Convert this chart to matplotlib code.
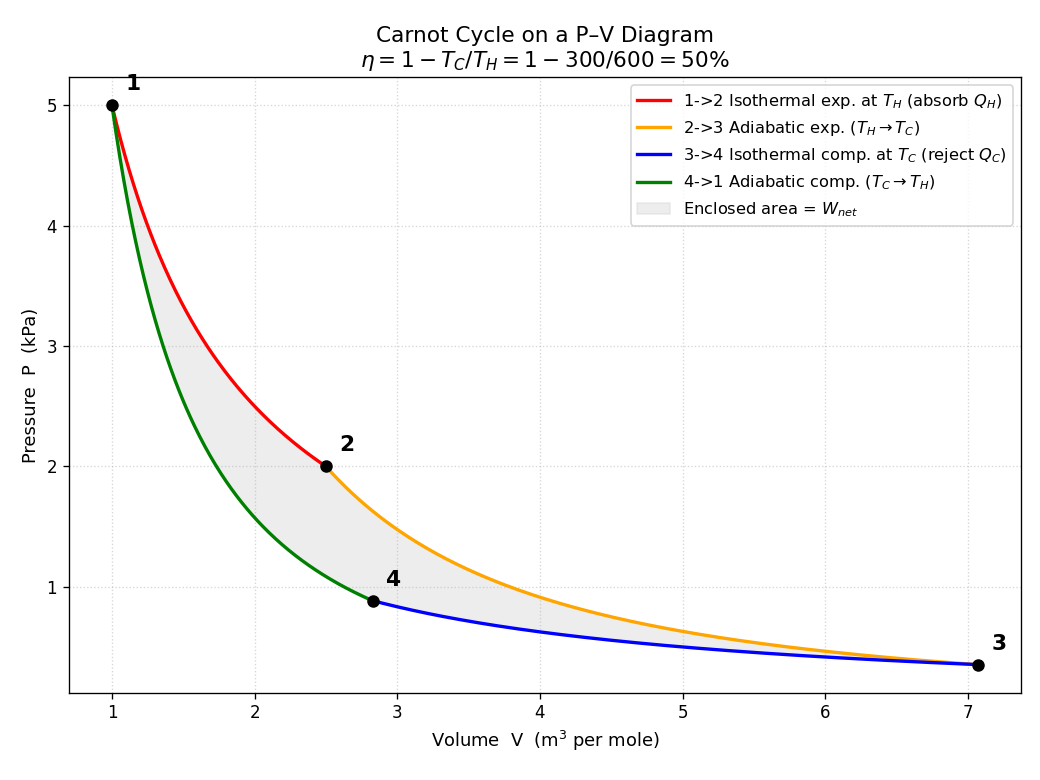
import numpy as np
import matplotlib.pyplot as plt

# state points of the cycle
V_pts = [1.0, 2.5, 7.071, 2.828]
P_pts = [5.0, 2.0, 0.354, 0.884]
labels = ['1', '2', '3', '4']
gamma = 5.0 / 3.0

V1, V2, V3, V4 = V_pts
P1, P2, P3, P4 = P_pts

# isotherms PV = const, adiabats PV^gamma = const
v12 = np.linspace(V1, V2, 200)
p12 = P1 * V1 / v12
v23 = np.linspace(V2, V3, 200)
p23 = P2 * (V2 / v23) ** gamma
v34 = np.linspace(V3, V4, 200)
p34 = P3 * V3 / v34
v41 = np.linspace(V4, V1, 200)
p41 = P4 * (V4 / v41) ** gamma

fig, ax = plt.subplots(figsize=(1040 / 120, 780 / 120), dpi=120)
fig.subplots_adjust(left=0.066, right=0.982, top=0.901, bottom=0.112)

ax.fill(np.concatenate([v12, v23, v34, v41]), np.concatenate([p12, p23, p34, p41]),
        color='lightgray', alpha=0.4, label='Enclosed area = $W_{net}$')
ax.plot(v12, p12, color='red', lw=2, label='1->2 Isothermal exp. at $T_H$ (absorb $Q_H$)')
ax.plot(v23, p23, color='orange', lw=2, label='2->3 Adiabatic exp. ($T_H \\rightarrow T_C$)')
ax.plot(v34, p34, color='blue', lw=2, label='3->4 Isothermal comp. at $T_C$ (reject $Q_C$)')
ax.plot(v41, p41, color='green', lw=2, label='4->1 Adiabatic comp. ($T_C \\rightarrow T_H$)')

ax.plot(V_pts, P_pts, 'o', color='black', ms=6.5, zorder=5)
for v, p, s in zip(V_pts, P_pts, labels):
    ax.annotate(s, (v, p), xytext=(8, 9), textcoords='offset points',
                fontsize=13, fontweight='bold')

handles, labs = ax.get_legend_handles_labels()
order = [1, 2, 3, 4, 0]
ax.legend([handles[i] for i in order], [labs[i] for i in order], loc='upper right', fontsize=9.75)

ax.set_title('Carnot Cycle on a P–V Diagram\n$\\eta = 1 - T_C/T_H = 1 - 300/600 = 50\\%$', fontsize=13)
ax.set_xlabel('Volume  V  (m$^3$ per mole)', fontsize=10.7)
ax.set_ylabel('Pressure  P  (kPa)', fontsize=10.7)
ax.grid(True, linestyle=':', alpha=0.5)

fig.savefig('out.png', dpi=120)
